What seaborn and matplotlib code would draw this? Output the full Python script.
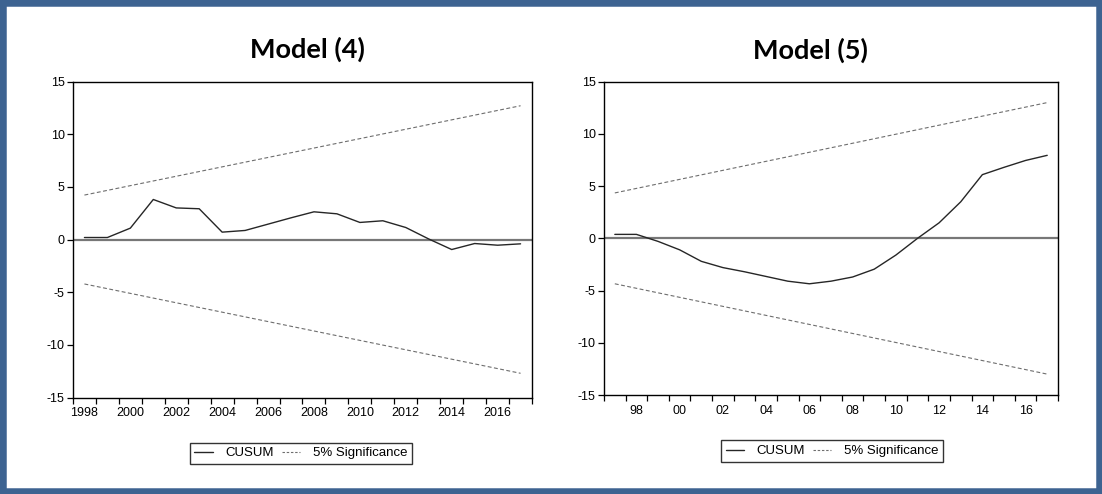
import pandas as pd
import seaborn as sns
from matplotlib import pyplot as plt
from matplotlib.lines import Line2D
from matplotlib.patches import Rectangle

# Model (4): CUSUM statistic by year, with 5% significance bounds
years_m4 = list(range(1998, 2018))
cusum_m4 = [0.19, 0.19, 1.08, 3.80, 3.00, 2.92, 0.70, 0.86, 1.46, 2.06,
            2.63, 2.44, 1.62, 1.78, 1.14, 0.05, -0.95, -0.38, -0.54, -0.41]
bound_years_m4 = [1998, 2017]
upper_m4 = [4.22, 12.70]
lower_m4 = [-4.22, -12.70]
labels_m4 = ["1998", "2000", "2002", "2004", "2006", "2008", "2010", "2012", "2014", "2016"]

# Model (5)
years_m5 = list(range(1997, 2018))
cusum_m5 = [0.38, 0.38, -0.29, -1.10, -2.20, -2.80, -3.20, -3.65, -4.10, -4.35,
            -4.10, -3.70, -2.95, -1.60, 0.00, 1.49, 3.50, 6.10, 6.80, 7.46, 7.95]
bound_years_m5 = [1997, 2017]
upper_m5 = [4.35, 13.00]
lower_m5 = [-4.35, -13.00]
labels_m5 = ["98", "00", "02", "04", "06", "08", "10", "12", "14", "16"]
label_years = list(range(1998, 2017, 2))

y_ticks = [-15, -10, -5, 0, 5, 10, 15]

sns.set_theme(style="white")
plt.rcParams["font.family"] = ["Liberation Sans", "DejaVu Sans"]
plt.rcParams["axes.unicode_minus"] = False
plt.rcParams["text.color"] = "black"
plt.rcParams["xtick.color"] = "black"
plt.rcParams["ytick.color"] = "black"

CUSUM_COLOR = "#262626"
BOUND_COLOR = "#6e6e6e"
BOUND_STYLE = (0, (3.5, 2.2))


def draw_cusum_panel(ax, years, cusum, bound_years, upper, lower, tick_labels):
    cusum_df = pd.DataFrame({"year": years, "value": cusum})
    upper_df = pd.DataFrame({"year": bound_years, "value": upper})
    lower_df = pd.DataFrame({"year": bound_years, "value": lower})

    ax.axhline(0, color="#777777", lw=1.6, zorder=1)
    sns.lineplot(data=cusum_df, x="year", y="value", color=CUSUM_COLOR, lw=1.0, ax=ax)
    sns.lineplot(data=upper_df, x="year", y="value", color=BOUND_COLOR, lw=0.8,
                 linestyle=BOUND_STYLE, ax=ax)
    sns.lineplot(data=lower_df, x="year", y="value", color=BOUND_COLOR, lw=0.8,
                 linestyle=BOUND_STYLE, ax=ax)

    ax.set_xlim(years[0] - 0.5, years[-1] + 0.5)
    ax.set_ylim(-15, 15)
    ax.set_xlabel("")
    ax.set_ylabel("")

    # ticks sit on the bin boundaries, labels on the observations
    boundaries = [y - 0.5 for y in years] + [years[-1] + 0.5]
    ax.set_xticks(boundaries, labels=[""] * len(boundaries))
    ax.set_xticks(label_years, labels=tick_labels, minor=True)
    ax.tick_params(axis="x", which="major", direction="out", length=4, width=0.9,
                   color="black", bottom=True)
    ax.tick_params(axis="x", which="minor", length=0, pad=7, labelsize=9)

    ax.set_yticks(y_ticks)
    ax.tick_params(axis="y", direction="out", length=4, width=0.9, color="black",
                   left=True, pad=2, labelsize=9)

    for side in ["top", "bottom", "left", "right"]:
        ax.spines[side].set_visible(True)
        ax.spines[side].set_color("black")
        ax.spines[side].set_linewidth(1.0)


fig = plt.figure(figsize=(11.02, 4.94), dpi=100)
fig.patch.set_facecolor("white")

ax_left = fig.add_axes([0.0662, 0.1953, 0.4166, 0.6397])
ax_right = fig.add_axes([0.5481, 0.2004, 0.4120, 0.6342])

draw_cusum_panel(ax_left, years_m4, cusum_m4, bound_years_m4, upper_m4, lower_m4, labels_m4)
draw_cusum_panel(ax_right, years_m5, cusum_m5, bound_years_m5, upper_m5, lower_m5, labels_m5)

fig.text(0.279, 0.901, "Model (4)", ha="center", va="center", fontsize=19.5,
         fontweight="bold", color="black", family=["Lato", "DejaVu Sans"])
fig.text(0.735, 0.899, "Model (5)", ha="center", va="center", fontsize=19.5,
         fontweight="bold", color="black", family=["Lato", "DejaVu Sans"])

legend_handles = [
    Line2D([], [], color=CUSUM_COLOR, lw=1.0),
    Line2D([], [], color=BOUND_COLOR, lw=0.8, linestyle=(0, (2.2, 1.6))),
]
legend_labels = ["CUSUM", "5% Significance"]
for cx, cy in [(0.2729, 0.0824), (0.7550, 0.0870)]:
    fig.legend(legend_handles, legend_labels, loc="center", bbox_to_anchor=(cx, cy),
               ncol=2, frameon=True, fancybox=False, edgecolor="#333333",
               framealpha=1, fontsize=9.5, handlelength=1.4, handletextpad=0.95,
               columnspacing=0.6, borderpad=0.35, borderaxespad=0)

# blue frame around the whole picture
fig.patches.append(Rectangle((0, 0), 1, 1, transform=fig.transFigure, fill=False,
                             edgecolor="#3d6391", lw=9, zorder=10))

fig.savefig("out.png", dpi=100)
